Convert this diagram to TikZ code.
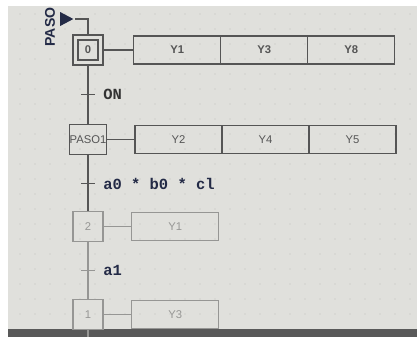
\documentclass[tikz,border=0pt]{standalone}
\usepackage{fontspec}
\setmainfont{Liberation Sans}
\newfontfamily\condfont{Liberation Mono}
\usetikzlibrary{positioning,shapes.geometric}
\definecolor{screen}{RGB}{224,224,220}
\definecolor{dotc}{RGB}{190,190,186}
\definecolor{ink}{RGB}{85,85,85}
\definecolor{pale}{RGB}{150,150,148}
\definecolor{navy}{RGB}{35,42,70}

\begin{document}
\begin{tikzpicture}[x=0.025cm,y=-0.025cm,line width=0.9pt,
      step node/.style={rectangle,draw=ink,minimum size=0.75cm,inner sep=0pt,font=\footnotesize,text=ink},
      action node/.style={rectangle,draw=ink,minimum width=2.175cm,minimum height=0.7cm,inner sep=0pt,outer sep=0pt,font=\footnotesize\bfseries,text=ink},
      tick node/.style={minimum width=0.3cm,minimum height=0pt,inner sep=0pt},
      cond node/.style={font=\condfont\fontsize{11}{13}\selectfont\bfseries,text=navy,inner sep=0pt}]
      \useasboundingbox (0,0) rectangle (417,337);
      \fill[white] (0,0) rectangle (417,337);
      \fill[screen] (8,6) rectangle (417,329);
      \fill[black!65] (8,329) rectangle (417,337);
      \foreach \x in {20,35,...,410}
        \foreach \y in {14,29,...,324}
          \fill[dotc] (\x,\y) circle[radius=0.5pt];

      % steps
      \node[step node] (s0) at (88,50) {};
      \node[step node,minimum size=0.5cm,font=\footnotesize\bfseries] (s0in) at (s0) {0};
      \node[step node] (s1) [below=1.45cm of s0] {PASO1};
      \node[step node,draw=pale,text=pale] (s2) [below=1.4cm of s1] {2};
      \node[step node,draw=pale,text=pale] (s3) [below=1.42cm of s2] {1};

      % actions
      \node[action node] (y1) [right=0.75cm of s0] {Y1};
      \node[action node] (y3) [right=0pt of y1] {Y3};
      \node[action node] (y8) [right=0pt of y3] {Y8};
      \node[action node,font=\footnotesize] (y2) [right=0.7cm of s1] {Y2};
      \node[action node,font=\footnotesize] (y4) [right=0pt of y2] {Y4};
      \node[action node,font=\footnotesize] (y5) [right=0pt of y4] {Y5};
      \node[action node,draw=pale,text=pale,font=\footnotesize] (y1b) [right=0.7cm of s2] {Y1};
      \node[action node,draw=pale,text=pale,font=\footnotesize] (y3b) [right=0.7cm of s3] {Y3};

      % transitions
      \node[tick node] (t0) [below=0.7cm of s0] {};
      \node[tick node] (t1) [below=0.7cm of s1] {};
      \node[tick node] (t2) [below=0.7cm of s2] {};
      \node[cond node,text=black!80,anchor=west] (c0) [right=0.2cm of t0] {ON};
      \node[cond node,anchor=west] (c1) [right=0.2cm of t1] {a0 * b0 * cl};
      \node[cond node,anchor=west] (c2) [right=0.2cm of t2] {a1};

      % initial arrow
      \node[isosceles triangle,isosceles triangle stretches,fill=navy,inner sep=0pt,
            minimum height=0.33cm,minimum width=0.35cm,anchor=apex] (init) at (75,19) {};
      \node[rotate=90,font=\bfseries,text=navy] (lbl) at (50,27) {PASO};
      \coordinate (end) at (s3.south |- 0,337);

      \path[draw=ink]
        (init.apex) -| (s0)
        (s0) edge (s1)
        (s1) edge (s2)
        (s0) edge (y1)
        (s1) edge (y2)
        (t0.west) edge (t0.east)
        (t1.west) edge (t1.east);
      \path[draw=pale]
        (s2) edge (s3)
        (s3) edge (end)
        (s2) edge (y1b)
        (s3) edge (y3b)
        (t2.west) edge (t2.east);
\end{tikzpicture}
\end{document}
